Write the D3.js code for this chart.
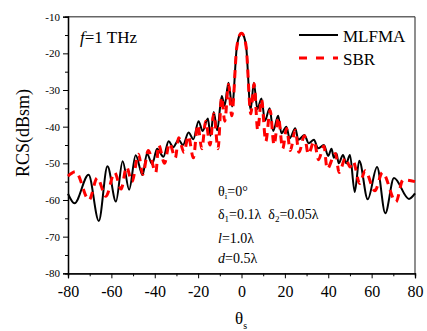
<!DOCTYPE html>
<html><head><meta charset="utf-8">
<script src="https://cdn.jsdelivr.net/npm/d3@7"></script>
<style>body{margin:0;background:#fff}svg{display:block}text{font-family:"Liberation Serif","Times New Roman",serif;fill:#000}</style>
</head><body>
<script>
// MLFMA (black solid): angle (deg), RCS (dBsm)
const thetaMLFMA = [-80,-77,-70.5,-65.8,-61.8,-57.9,-54.8,-51.8,-48.8,-45.6,-43.6,-41.2,-38.9,-36.0,-33.6,-31.5,-29.0,-27.0,-24.4,-22.2,-19.8,-17.9,-15.5,-14.3,-12.8,-11.2,-9.1,-7.8,-6.0,-4.3,-2.2,-1,0,1,2.2,4.2,5.7,7.3,9.2,10.8,13.0,14.6,16.9,18.4,20.7,22.2,24.8,26.2,29.0,31.0,33.4,35.3,38.0,40.0,41.5,42.6,43.8,44.8,46.8,48.3,50.0,52.2,54.3,58.2,62.5,66.3,70.3,77.2,80];
const rcsMLFMA   = [-58.3,-60.9,-53.1,-65.7,-50.8,-60.4,-49.4,-57.2,-47.8,-53.2,-47.3,-50.2,-46.0,-48.2,-44.0,-45.6,-43.6,-45.0,-41.6,-43.4,-38.5,-41.2,-37.8,-42.5,-36.0,-41.0,-31.6,-34.3,-28.0,-34.5,-18.5,-15.2,-14.5,-15.2,-18.5,-35.4,-28.0,-35.2,-32.3,-38.4,-35.0,-41.2,-37.0,-41.8,-40.0,-43.2,-40.4,-43.6,-42.3,-44.5,-43.6,-45.9,-45.0,-48.0,-46.0,-48.5,-47.3,-50.0,-47.7,-50.0,-47.7,-57.8,-49.3,-59.8,-51.0,-63.6,-54.0,-59.7,-58.2];
// SBR (red dashed)
const thetaSBR = [-80,-76.5,-70.3,-66.5,-62.5,-58.5,-55.5,-53,-50.5,-47.5,-45.5,-43,-39.5,-38.2,-35.5,-33.2,-30.5,-29,-26.5,-24.5,-22.2,-20.2,-18.3,-16.5,-14.5,-12.8,-10.8,-9.2,-7.7,-6.0,-4.5,-2.2,-1,0,1,2.2,4.3,5.8,7.5,9.2,11.2,13.2,15.0,17.0,19.0,20.8,22.5,24.8,26.5,29.0,30.8,33.5,35.5,38.0,39.5,43.3,45.0,48.0,50.0,51.5,54.5,57.0,61.5,65.0,71.2,74.5,80];
const rcsSBR   = [-53.5,-52.3,-60.0,-54.0,-59.0,-52.5,-57.0,-51.0,-55.0,-47.5,-53.0,-46.5,-52.5,-45.0,-50.0,-44.5,-48.5,-43.0,-47.0,-42.5,-48.5,-39.5,-46.0,-38.5,-45.0,-36.5,-46.0,-32.0,-38.5,-28.5,-37.0,-18.5,-15.2,-14.5,-15.2,-18.5,-36.5,-28.3,-41.0,-32.5,-44.0,-35.5,-45.0,-37.5,-46.0,-40.5,-46.5,-41.0,-47.0,-42.5,-47.5,-44.0,-49.0,-45.3,-51.5,-47.3,-52.5,-48.5,-51.0,-49.5,-55.5,-52.0,-57.5,-52.5,-60.5,-54.5,-55.0];
const xTicks = [-80,-60,-40,-20,0,20,40,60,80];
const yTicks = [-80,-70,-60,-50,-40,-30,-20,-10];
const seriesNames = ["MLFMA","SBR"];

const W=427,H=331, L=68, R=415, T=16.7, B=273.3;
const svg=d3.select("body").append("svg").attr("width",W).attr("height",H);
const x=d3.scaleLinear().domain([-80,80]).range([L,R]);
const y=d3.scaleLinear().domain([-80,-10]).range([B,T]);
const fmt = d => String(d);

// frame top/right
svg.append("line").attr("x1",L).attr("x2",R).attr("y1",T).attr("y2",T).attr("stroke","#666").attr("stroke-width",1.5);
svg.append("line").attr("x1",R).attr("x2",R).attr("y1",T).attr("y2",B).attr("stroke","#444").attr("stroke-width",1.2);

// minor ticks
svg.append("g").attr("transform",`translate(0,${B})`)
  .call(d3.axisBottom(x).tickValues(d3.range(-70,80,20)).tickSize(3).tickFormat(""));
svg.append("g").attr("transform",`translate(${L},0)`)
  .call(d3.axisLeft(y).tickValues(d3.range(-75,-10,10)).tickSize(3).tickFormat(""));
// major
const gx2=svg.append("g").attr("transform",`translate(0,${B})`)
  .call(d3.axisBottom(x).tickValues(xTicks).tickSize(5).tickPadding(5).tickFormat(fmt));
gx2.selectAll("text").attr("font-size","16px").attr("dy","0.85em");
const gy2=svg.append("g").attr("transform",`translate(${L},0)`)
  .call(d3.axisLeft(y).tickValues(yTicks).tickSize(5).tickPadding(3).tickFormat(fmt));
gy2.selectAll("text").attr("font-size","11px");
svg.selectAll(".domain").attr("stroke","#000").attr("stroke-width",1.3);
svg.selectAll(".tick line").attr("stroke","#000");

// lines
const line=d3.line().x(d=>x(d[0])).y(d=>y(d[1])).curve(d3.curveMonotoneX);
const dM=thetaMLFMA.map((t,i)=>[t,rcsMLFMA[i]]);
const dS=thetaSBR.map((t,i)=>[t,rcsSBR[i]]);
svg.append("path").attr("d",line(dM)).attr("fill","none").attr("stroke","#000").attr("stroke-width",2);
svg.append("path").attr("d",line(dS)).attr("fill","none").attr("stroke","#ff0000").attr("stroke-width",3).attr("stroke-dasharray","8,6");

// legend
svg.append("line").attr("x1",299).attr("x2",338).attr("y1",35).attr("y2",35).attr("stroke","#000").attr("stroke-width",2);
svg.append("text").attr("x",343).attr("y",42).attr("font-size","17px").text(seriesNames[0]);
svg.append("line").attr("x1",299).attr("x2",338).attr("y1",58).attr("y2",58).attr("stroke","#ff0000").attr("stroke-width",3).attr("stroke-dasharray","8,9");
svg.append("text").attr("x",343).attr("y",65).attr("font-size","17px").text(seriesNames[1]);

// f=1 THz
const ft=svg.append("text").attr("x",80).attr("y",43).attr("font-size","17px");
ft.append("tspan").attr("font-style","italic").text("f");
ft.append("tspan").text("=1 THz");

// annotations
function sub(t,parts){parts.forEach(p=>{const s=t.append("tspan").text(p[0]);if(p[1]==="sub"){s.attr("font-size","9px").attr("dy","3");}else if(p[1]==="up"){s.attr("dy","-3");}else if(p[1]==="it"){s.attr("font-style","italic");}});}
const a1=svg.append("text").attr("x",218).attr("y",196).attr("font-size","14px");
sub(a1,[["θ"],["i","sub"],["=0°","up"]]);
const a2=svg.append("text").attr("x",218).attr("y",219).attr("font-size","14px").style("white-space","pre");
sub(a2,[["δ"],["1","sub"],["=0.1λ  δ","up"],["2","sub"],["=0.05λ","up"]]);
const a3=svg.append("text").attr("x",218).attr("y",243).attr("font-size","14px");
sub(a3,[["l","it"],["=1.0λ"]]);
const a4=svg.append("text").attr("x",218).attr("y",263).attr("font-size","14px");
sub(a4,[["d","it"],["=0.5λ"]]);

// axis titles
svg.append("text").attr("transform","translate(28.5,133) rotate(-90)").attr("text-anchor","middle").attr("font-size","18px").text("RCS(dBsm)");
const xt=svg.append("text").attr("x",235).attr("y",324).attr("font-size","17px");
xt.append("tspan").text("θ");
xt.append("tspan").attr("font-size","10px").attr("dy","5").text("s");

svg.selectAll("g").attr("font-family",null);
svg.selectAll("text").style("font-family","'Liberation Serif', 'Times New Roman', serif");
</script>
</body></html>
